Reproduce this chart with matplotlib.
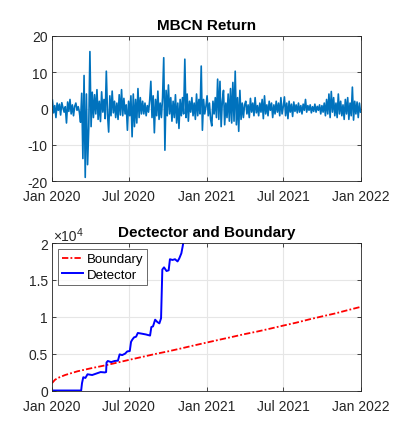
import matplotlib
matplotlib.use("Agg")
import matplotlib.pyplot as plt
import numpy as np
import pandas as pd

plt.rcParams['font.family'] = ['Liberation Sans', 'DejaVu Sans']
plt.rcParams['axes.unicode_minus'] = False

# ---- data: MBCN daily return (~11 points per month) ----
ret = [
    # Jan 2020
    2.3, -1.2, 0.8, -2.5, 1.5, -0.5, 1.2, -1.8, 1.6, 0.2, -1.0,
    # Feb 2020
    0.5, -4.0, 1.8, -0.8, 2.5, -1.5, 1.0, -2.0, 0.6, 1.5, -0.5,
    # Mar 2020
    0.5, -1.0, -3.8, 4.2, -13.8, 9.1, -19.0, 4.0, -15.5, -5.5, 15.7,
    # Apr 2020
    -5.0, 4.5, -2.5, 3.8, -1.5, 5.2, -3.0, 2.0, -3.6, 4.6, -1.0,
    # May 2020
    2.5, -2.8, 10.3, -1.5, -6.5, 3.5, -2.0, 4.8, -1.2, 2.0, -2.5,
    # Jun 2020
    1.5, -3.0, 3.8, -1.8, 5.2, -2.0, 2.8, -1.5, 1.0, -6.0, 2.0,
    # Jul 2020
    -2.0, 3.5, -7.8, 4.0, -5.0, 2.5, -4.0, 5.5, -2.5, 3.0, -1.5,
    # Aug 2020
    2.0, -1.5, 1.5, -2.0, 0.8, -1.0, 2.2, 7.5, -2.5, 3.5, -6.7,
    # Sep 2020
    2.5, -2.0, 4.8, -3.0, 1.5, -2.5, 3.0, 14.0, -11.5, 5.0, -2.0,
    # Oct 2020
    6.5, -1.5, 3.0, -3.5, 2.0, -2.5, 3.8, -4.0, 1.5, -5.5, 2.5,
    # Nov 2020
    -2.0, 3.0, -1.5, 13.6, -2.5, 4.0, -3.5, 2.0, -1.0, 3.0, -2.0,
    # Dec 2020
    1.5, -3.0, 4.0, -2.0, 2.5, -1.5, 11.7, -6.0, 2.5, -1.5, 0.5,
    # Jan 2021
    3.5, -2.0, 1.5, -3.0, -4.8, 2.0, -1.5, 3.0, -2.5, 8.1, -3.0,
    # Feb 2021
    7.5, -5.0, 2.0, 5.0, -4.5, 1.5, -2.5, 4.0, -3.5, 5.5, -4.0,
    # Mar 2021
    7.2, -3.5, 10.3, -4.5, 3.0, -6.3, 5.0, -3.0, 1.5, -2.5, 1.0,
    # Apr 2021
    2.0, -1.5, 1.0, -2.5, 2.8, -1.0, 1.5, -2.0, 3.0, -1.2, 0.8,
    # May 2021
    -2.0, 1.5, -1.0, 2.5, -2.8, 3.5, -1.5, 1.0, -2.0, 2.0, -0.5,
    # Jun 2021
    1.5, -2.5, 1.0, -1.5, 2.0, -1.0, 1.5, -2.0, 3.0, -1.5, 0.5,
    # Jul 2021
    3.2, -2.0, 1.5, -2.8, 2.0, -1.0, 1.2, -2.2, 1.8, -0.8, 1.0,
    # Aug 2021
    -1.2, 1.5, -1.0, 0.8, -1.5, 1.2, -0.5, 2.5, -1.0, 0.8, -0.5,
    # Sep 2021
    1.0, -1.2, 0.5, -0.8, 1.2, -1.0, 0.6, -0.5, 1.0, -1.5, 0.8,
    # Oct 2021
    -1.0, 1.5, -2.0, 2.5, -1.5, 4.0, -2.5, 4.7, -1.0, 3.0, -2.0,
    # Nov 2021
    1.5, -2.5, 4.0, -1.5, 2.0, -2.0, 1.0, -3.0, 2.5, -1.5, 3.0,
    # Dec 2021
    -3.0, 1.5, -2.0, 5.9, -3.2, 2.0, -1.5, 1.8, -2.5, 1.5, -1.0,
]
ret_dates = pd.date_range('2020-01-02', '2021-12-31', periods=len(ret))

# ---- boundary (monthly knots) ----
bnd_dates = pd.to_datetime([
    '2020-01-01', '2020-01-08', '2020-01-15', '2020-02-01', '2020-03-01', '2020-04-01',
    '2020-05-01', '2020-06-01', '2020-07-01', '2020-08-01', '2020-09-01', '2020-10-01',
    '2020-11-01', '2020-12-01', '2021-01-01', '2021-02-01', '2021-03-01', '2021-04-01',
    '2021-05-01', '2021-06-01', '2021-07-01', '2021-08-01', '2021-09-01', '2021-10-01',
    '2021-11-01', '2021-12-01', '2022-01-01'])
bnd_vals = [1000, 1450, 1700, 2100, 2600, 3000, 3350, 3750, 4150, 4550, 4950, 5300,
            5700, 6100, 6500, 6900, 7250, 7650, 8000, 8400, 8800, 9200, 9650, 10050,
            10450, 10900, 11350]

# ---- detector ----
det_dates = pd.to_datetime([
    '2020-01-01', '2020-03-10', '2020-03-12', '2020-03-15', '2020-03-20', '2020-03-25',
    '2020-04-05', '2020-04-15', '2020-04-25', '2020-05-05', '2020-05-08', '2020-05-09',
    '2020-05-12', '2020-05-20', '2020-05-28', '2020-06-05', '2020-06-09', '2020-06-15',
    '2020-06-22', '2020-06-27', '2020-07-03', '2020-07-06', '2020-07-09', '2020-07-13',
    '2020-07-18', '2020-07-22', '2020-08-01', '2020-08-10', '2020-08-20', '2020-08-23',
    '2020-08-27', '2020-09-01', '2020-09-06', '2020-09-11', '2020-09-15', '2020-09-18',
    '2020-09-22', '2020-09-28', '2020-10-03', '2020-10-06', '2020-10-12', '2020-10-18',
    '2020-10-24', '2020-10-28', '2020-11-02', '2020-11-05', '2020-11-08', '2020-11-12'])
det_vals = [0, 0, 1000, 1800, 1700, 2200,
            2100, 2300, 2500, 2450, 2500, 3800,
            4000, 3850, 4000, 4050, 4900, 4800,
            5000, 5300, 5350, 6600, 6900, 7200,
            7300, 7800, 7700, 7600, 7450, 8600,
            8700, 9600, 9300, 9100, 9800, 16400,
            16700, 16200, 16300, 17800, 17700, 17800,
            17500, 17900, 18600, 19500, 20500, 22000]

xticks = pd.to_datetime(['2020-01-01', '2020-07-01', '2021-01-01', '2021-07-01', '2022-01-01'])
xticklabels = ['Jan 2020', 'Jul 2020', 'Jan 2021', 'Jul 2021', 'Jan 2022']
ret_yticks = [-20, -10, 0, 10, 20]
det_yticks = [0, 5000, 10000, 15000, 20000]
det_yticklabels = ['0', '0.5', '1', '1.5', '2']

fig = plt.figure(figsize=(3.99, 4.39), dpi=100)
ax1 = fig.add_axes([52/399, 1-182/439, 309/399, 145/439])
ax2 = fig.add_axes([52/399, 1-391.5/439, 309/399, 147.5/439])

axcol = '#262626'
for ax in (ax1, ax2):
    ax.set_xlim(xticks[0], xticks[-1])
    ax.set_xticks(xticks)
    ax.set_xticklabels(xticklabels)
    ax.grid(True, color='#e6e6e6', linewidth=0.8)
    ax.set_axisbelow(True)
    ax.tick_params(direction='in', length=3, width=0.6, colors=axcol,
                   labelsize=10, top=True, right=True)
    ax.tick_params(axis='x', pad=6)
    ax.tick_params(axis='y', pad=3)
    for s in ax.spines.values():
        s.set_color(axcol)
        s.set_linewidth(0.6)

ax1.plot(ret_dates, ret, color='#0072BD', linewidth=1.2)
ax1.set_ylim(-20, 20)
ax1.set_yticks(ret_yticks)
ax1.set_title('MBCN Return', fontsize=11, fontweight='bold', pad=5)

dashdot = (0, (3.5, 1.2, 1.0, 1.2))
ax2.plot(bnd_dates, bnd_vals, color='red', linestyle=dashdot, linewidth=1.3, label='Boundary')
ax2.plot(det_dates, det_vals, color='blue', linestyle='-', linewidth=1.4, label='Detector')
ax2.set_ylim(0, 20000)
ax2.set_yticks(det_yticks)
ax2.set_yticklabels(det_yticklabels)
ax2.set_title('Dectector and Boundary', fontsize=11, fontweight='bold', pad=5)
fig.text(53/399, 1-241.5/439, '\u00d710', fontsize=10, color=axcol, ha='left', va='baseline')
fig.text(76.5/399, 1-236/439, '4', fontsize=7.5, color=axcol, ha='left', va='baseline')
leg = ax2.legend(loc='upper left', fontsize=9.5, frameon=True, fancybox=False,
                 handlelength=1.6, handletextpad=0.3, borderpad=0.3,
                 labelspacing=0.25, borderaxespad=0.45)
leg.get_frame().set_edgecolor(axcol)
leg.get_frame().set_linewidth(0.6)

fig.savefig('out.png', dpi=100)
